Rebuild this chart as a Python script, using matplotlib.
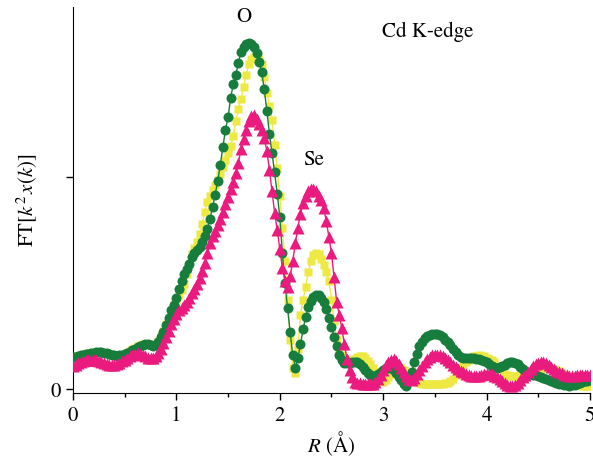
import numpy as np
import matplotlib
matplotlib.use("Agg")
import matplotlib.pyplot as plt

plt.rcParams['font.family'] = 'STIXGeneral'
plt.rcParams['mathtext.fontset'] = 'stix'

# R grid (Angstrom), step 0.025
r = np.round(np.arange(0, 5.0001, 0.025), 3)

# green circles
green = [
    0.150, 0.152, 0.155, 0.158, 0.160, 0.163, 0.166, 0.169, 0.171, 0.172,
    0.173, 0.172, 0.170, 0.167, 0.163, 0.160, 0.158, 0.157, 0.158, 0.160,
    0.163, 0.168, 0.175, 0.183, 0.190, 0.197, 0.203, 0.207, 0.210, 0.210,
    0.205, 0.200, 0.205, 0.220, 0.245, 0.270, 0.300, 0.335, 0.370, 0.395,
    0.430, 0.470, 0.510, 0.540, 0.565, 0.590, 0.620, 0.640, 0.655, 0.670,
    0.690, 0.720, 0.755, 0.800, 0.855, 0.915, 0.980, 1.055, 1.140, 1.220,
    1.280, 1.370, 1.435, 1.480, 1.535, 1.585, 1.610, 1.625, 1.630, 1.625,
    1.610, 1.580, 1.540, 1.490, 1.410, 1.310, 1.200, 1.110, 1.020, 0.920,
    0.810, 0.640, 0.500, 0.380, 0.270, 0.160, 0.100, 0.145, 0.210, 0.280,
    0.340, 0.385, 0.415, 0.435, 0.443, 0.440, 0.430, 0.410, 0.375, 0.335,
    0.290, 0.245, 0.200, 0.160, 0.135, 0.122, 0.120, 0.122, 0.125, 0.126,
    0.125, 0.118, 0.105, 0.090, 0.075, 0.065, 0.060, 0.062, 0.070, 0.080,
    0.090, 0.097, 0.100, 0.098, 0.090, 0.075, 0.058, 0.040, 0.022, 0.015,
    0.040, 0.080, 0.125, 0.165, 0.200, 0.222, 0.240, 0.250, 0.256, 0.260,
    0.260, 0.258, 0.252, 0.243, 0.232, 0.220, 0.205, 0.190, 0.175, 0.160,
    0.152, 0.148, 0.147, 0.147, 0.147, 0.146, 0.143, 0.140, 0.135, 0.130,
    0.126, 0.118, 0.110, 0.103, 0.100, 0.102, 0.107, 0.114, 0.120, 0.125,
    0.126, 0.124, 0.117, 0.105, 0.093, 0.082, 0.075, 0.070, 0.067, 0.065,
    0.063, 0.058, 0.052, 0.047, 0.042, 0.036, 0.031, 0.027, 0.024, 0.021,
    0.019, 0.017, 0.016, 0.017, 0.020, 0.024, 0.028, 0.033, 0.036, 0.038,
    0.040,
]

# yellow squares
yellow = [
    0.152, 0.154, 0.157, 0.160, 0.162, 0.165, 0.168, 0.170, 0.172, 0.173,
    0.174, 0.173, 0.171, 0.168, 0.165, 0.162, 0.160, 0.159, 0.160, 0.162,
    0.166, 0.171, 0.178, 0.186, 0.193, 0.200, 0.206, 0.210, 0.212, 0.212,
    0.208, 0.205, 0.210, 0.225, 0.248, 0.275, 0.305, 0.335, 0.365, 0.395,
    0.420, 0.440, 0.465, 0.495, 0.540, 0.590, 0.635, 0.665, 0.690, 0.730,
    0.775, 0.835, 0.880, 0.910, 0.935, 0.960, 0.985, 1.010, 1.045, 1.080,
    1.110, 1.145, 1.190, 1.260, 1.320, 1.365, 1.420, 1.480, 1.530, 1.555,
    1.565, 1.565, 1.555, 1.530, 1.470, 1.395, 1.330, 1.265, 1.150, 1.040,
    0.910, 0.760, 0.600, 0.420, 0.230, 0.100, 0.075, 0.190, 0.350, 0.420,
    0.480, 0.550, 0.600, 0.630, 0.640, 0.635, 0.610, 0.585, 0.550, 0.510,
    0.420, 0.320, 0.236, 0.185, 0.160, 0.142, 0.135, 0.133, 0.135, 0.142,
    0.150, 0.155, 0.153, 0.145, 0.133, 0.118, 0.100, 0.080, 0.057, 0.040,
    0.035, 0.040, 0.055, 0.072, 0.085, 0.095, 0.100, 0.098, 0.090, 0.078,
    0.065, 0.052, 0.042, 0.033, 0.027, 0.024, 0.022, 0.022, 0.023, 0.024,
    0.024, 0.024, 0.024, 0.024, 0.026, 0.030, 0.036, 0.048, 0.065, 0.085,
    0.100, 0.115, 0.128, 0.138, 0.147, 0.153, 0.157, 0.158, 0.157, 0.153,
    0.147, 0.140, 0.135, 0.125, 0.110, 0.095, 0.082, 0.072, 0.066, 0.063,
    0.061, 0.060, 0.060, 0.062, 0.065, 0.069, 0.075, 0.082, 0.088, 0.093,
    0.097, 0.099, 0.100, 0.100, 0.099, 0.097, 0.094, 0.090, 0.086, 0.076,
    0.065, 0.055, 0.047, 0.037, 0.028, 0.021, 0.017, 0.016, 0.016, 0.016,
    0.016,
]

# pink triangles
pink = [
    0.110, 0.115, 0.120, 0.125, 0.130, 0.134, 0.137, 0.138, 0.137, 0.134,
    0.130, 0.125, 0.120, 0.116, 0.113, 0.112, 0.113, 0.117, 0.123, 0.130,
    0.138, 0.147, 0.155, 0.162, 0.166, 0.167, 0.165, 0.160, 0.153, 0.148,
    0.145, 0.147, 0.155, 0.170, 0.190, 0.215, 0.245, 0.275, 0.305, 0.330,
    0.355, 0.370, 0.383, 0.395, 0.410, 0.430, 0.450, 0.470, 0.495, 0.520,
    0.555, 0.595, 0.640, 0.685, 0.720, 0.745, 0.770, 0.800, 0.835, 0.870,
    0.905, 0.940, 0.975, 1.015, 1.065, 1.130, 1.175, 1.220, 1.260, 1.285,
    1.290, 1.270, 1.245, 1.220, 1.180, 1.120, 1.030, 0.930, 0.830, 0.750,
    0.660, 0.570, 0.510, 0.480, 0.530, 0.600, 0.685, 0.760, 0.825, 0.875,
    0.910, 0.930, 0.940, 0.940, 0.933, 0.910, 0.890, 0.850, 0.790, 0.715,
    0.640, 0.525, 0.410, 0.350, 0.285, 0.210, 0.140, 0.090, 0.055, 0.035,
    0.030, 0.027, 0.025, 0.024, 0.023, 0.023, 0.024, 0.032, 0.045, 0.067,
    0.090, 0.112, 0.128, 0.138, 0.140, 0.133, 0.118, 0.100, 0.080, 0.062,
    0.048, 0.040, 0.050, 0.070, 0.090, 0.110, 0.128, 0.142, 0.152, 0.158,
    0.160, 0.160, 0.158, 0.155, 0.148, 0.138, 0.126, 0.115, 0.103, 0.092,
    0.085, 0.079, 0.072, 0.066, 0.062, 0.060, 0.060, 0.062, 0.066, 0.070,
    0.072, 0.072, 0.069, 0.063, 0.055, 0.046, 0.036, 0.027, 0.020, 0.016,
    0.015, 0.020, 0.030, 0.042, 0.055, 0.068, 0.080, 0.093, 0.106, 0.117,
    0.124, 0.127, 0.126, 0.120, 0.112, 0.103, 0.094, 0.086, 0.079, 0.073,
    0.068, 0.064, 0.062, 0.062, 0.063, 0.065, 0.067, 0.068, 0.068, 0.068,
    0.068,
]

fig = plt.figure(figsize=(5.93, 4.60), dpi=100)
ax = fig.add_axes([0.123, 0.1435, 0.872, 0.84])

ax.plot(r, yellow, color='#eee843', marker='s', ms=6.2, lw=1, mec='none', zorder=2)
ax.plot(r, green, color='#177d3d', marker='o', ms=7.2, lw=1, mec='none', zorder=3)
ax.plot(r, pink, color='#ea1a7f', marker='^', ms=8.5, lw=1, mec='none', zorder=4)

ax.set_xlim(0, 5)
ax.set_ylim(-0.019, 1.80)
ax.set_xticks([0, 1, 2, 3, 4, 5])
ax.set_xticks([0.5, 1.5, 2.5, 3.5, 4.5], minor=True)
ax.set_yticks([0, 1])
ax.set_yticklabels(['0', ''])
ax.tick_params(direction='out', labelsize=15, length=5, width=1)
ax.tick_params(which='minor', direction='out', length=3, width=1)
for s in ['top', 'right']:
    ax.spines[s].set_visible(False)

ax.set_xlabel('$R$ (Å)', fontsize=15, labelpad=3)
ax.set_ylabel('FT[$k^2\\,x(k)$]', fontsize=15, labelpad=8)

ax.text(1.65, 1.73, 'O', fontsize=15, ha='center')
ax.text(2.33, 1.06, 'Se', fontsize=15, ha='center')
ax.text(3.43, 1.66, 'Cd K-edge', fontsize=15, ha='center')

fig.savefig('out.png', dpi=100)
